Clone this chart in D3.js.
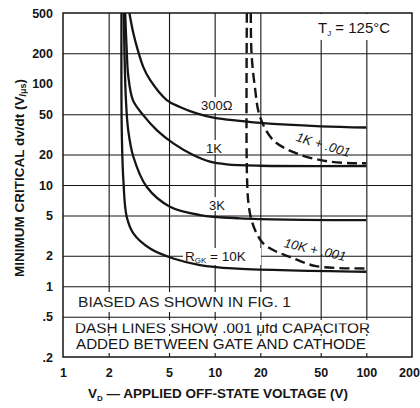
<!DOCTYPE html>
<html><head><meta charset="utf-8">
<script src="https://cdn.jsdelivr.net/npm/d3@7"></script>
<style>
html,body{margin:0;padding:0;background:#fff;}
svg{display:block;font-family:"Liberation Sans",Arial,Helvetica,sans-serif;}
</style></head>
<body><svg id="c" width="420" height="408"></svg>
<script>
// ---- data ----
const xTickValues = [1, 2, 5, 10, 20, 50, 100, 200];
const xTickLabels = ["1", "2", "5", "10", "20", "50", "100", "200"];
const yTickValues = [500, 200, 100, 50, 20, 10, 5, 2, 1, 0.5, 0.2];
const yTickLabels = ["500", "200", "100", "50", "20", "10", "5", "2", "1", ".5", ".2"];
const xGridValues = [2, 5, 10, 20, 50, 100];
const yGridValues = [200, 50, 20, 10, 5, 2, 1, 0.5];

// solid curves: R_GK = 300 ohm, 1K, 3K, 10K  (V, dv/dt)
const r300V   = [2.74, 2.91, 3.11, 3.38, 3.75, 4.83, 5.9, 7.6, 10, 14.7, 20, 50, 100];
const r300Val = [500, 315, 216, 147, 109, 69, 59, 51, 46, 43, 41, 38, 37];
const r1kV    = [2.57, 2.63, 2.69, 2.89, 3.38, 4.15, 5.34, 7.22, 9.31, 12, 20, 100];
const r1kVal  = [500, 216, 122, 69, 49, 34.9, 25.8, 19.8, 17, 16, 15.5, 15.4];
const r3kV    = [2.52, 2.54, 2.60, 2.69, 2.91, 3.56, 5.07, 8.0, 14.7, 100];
const r3kVal  = [500, 216, 69, 34.9, 19, 9.6, 6.1, 5.05, 4.69, 4.5];
const r10kV   = [2.43, 2.44, 2.50, 2.63, 2.91, 3.75, 5.34, 8.0, 13.2, 100];
const r10kVal = [500, 34.9, 11.2, 4.85, 3.33, 2.36, 1.88, 1.62, 1.5, 1.39];
// dashed curves: with .001 uF capacitor
const c1kV    = [17.3, 17.5, 18.4, 19.9, 24.3, 34.7, 57.5, 100];
const c1kVal  = [500, 200, 93.5, 47.2, 27.8, 20.5, 17, 16.4];
const c10kV   = [16.3, 16.3, 16.7, 17.5, 18.9, 20.9, 25.6, 31.4, 46.5, 100];
const c10kVal = [500, 14, 6.6, 4.5, 3.33, 2.65, 2.19, 1.95, 1.58, 1.5];

// ---- chart ----
const svg = d3.select("#c");
const ink = "#151515";
const L = 63, R = 412, T = 13, B = 357;
const x = d3.scaleLog().domain([1, 200]).range([L, R]);
const y = d3.scaleLog().domain([0.2, 500]).range([B, T]);

svg.append("rect").attr("width", 420).attr("height", 408).attr("fill", "#fff");

svg.append("clipPath").attr("id", "plot").append("rect")
  .attr("x", L).attr("y", T).attr("width", R - L).attr("height", B - T);

// grid via axes
const gx = svg.append("g").attr("transform", `translate(0,${B})`)
  .call(d3.axisBottom(x).tickValues(xGridValues).tickSize(-(B - T)).tickFormat(""));
const gy = svg.append("g").attr("transform", `translate(${L},0)`)
  .call(d3.axisLeft(y).tickValues(yGridValues).tickSize(-(R - L)).tickFormat(""));
[gx, gy].forEach(g => {
  g.select(".domain").remove();
  g.selectAll("line").attr("stroke", ink).attr("stroke-width", 1.1);
});

// white backgrounds behind in-plot labels (hide grid)
const bg = svg.append("g").attr("fill", "#fff");
function bgRect(x0, y0, w, h) { bg.append("rect").attr("x", x0).attr("y", y0).attr("width", w).attr("height", h); }
bgRect(314, 14, 84, 26);     // T_J
bgRect(199, 97, 37, 16);     // 300
bgRect(204, 140, 24, 14);    // 1K
bgRect(207, 197, 24, 14);    // 3K
bgRect(183, 248, 78, 17);    // R_GK
bgRect(70, 292, 228, 20);    // BIASED
bgRect(70, 320, 304, 14);    // DASH
bgRect(70, 336, 300, 17);    // ADDED

// frame
svg.append("rect").attr("x", L).attr("y", T).attr("width", R - L).attr("height", B - T)
  .attr("fill", "none").attr("stroke", ink).attr("stroke-width", 1.5);

// curves
const line = d3.line().x(d => x(d[0])).y(d => y(d[1])).curve(d3.curveCatmullRom.alpha(0.5));
const zip = (a, b) => a.map((v, i) => [v, b[i]]);
const curves = svg.append("g").attr("clip-path", "url(#plot)").attr("fill", "none").attr("stroke", ink);
[[r300V, r300Val], [r1kV, r1kVal], [r3kV, r3kVal], [r10kV, r10kVal]].forEach(([a, b]) => {
  curves.append("path").attr("d", line(zip(a, b))).attr("stroke-width", 2.3);
});
[[c1kV, c1kVal], [c10kV, c10kVal]].forEach(([a, b]) => {
  curves.append("path").attr("d", line(zip(a, b))).attr("stroke-width", 2.4)
    .attr("stroke-dasharray", "10,5");
});

// axis tick labels
const ax = svg.append("g").attr("transform", `translate(0,${B})`)
  .call(d3.axisBottom(x).tickValues(xTickValues).tickSize(0).tickPadding(11)
    .tickFormat((d, i) => xTickLabels[i]));
ax.select(".domain").remove();
ax.selectAll("text").attr("font-size", 12.5).attr("font-weight", "bold").attr("fill", ink)
  .attr("font-family", "Liberation Sans, Arial, sans-serif")
  .attr("dx", (d) => d === 200 ? -3 : 0);

const ay = svg.append("g").attr("transform", `translate(${L},0)`)
  .call(d3.axisLeft(y).tickValues(yTickValues).tickSize(0).tickPadding(10)
    .tickFormat((d, i) => yTickLabels[i]));
ay.select(".domain").remove();
ay.selectAll("text").attr("font-size", 12.5).attr("font-weight", "bold").attr("fill", ink)
  .attr("font-family", "Liberation Sans, Arial, sans-serif");

// axis titles
const xt = svg.append("text").attr("x", 88).attr("y", 398).attr("font-size", 13.5)
  .attr("font-weight", "bold").attr("fill", ink);
xt.append("tspan").text("V");
xt.append("tspan").attr("font-size", 8).attr("dy", 3).text("D");
xt.append("tspan").attr("dy", -3).text(" — APPLIED OFF-STATE VOLTAGE (V)");

const yt = svg.append("text").attr("transform", "translate(24,178) rotate(-90)")
  .attr("text-anchor", "middle").attr("font-size", 13.5).attr("font-weight", "bold").attr("fill", ink);
yt.append("tspan").text("MINIMUM CRITICAL dv/dt (V");
yt.append("tspan").attr("font-size", 9).attr("dy", 2).text("/μs");
yt.append("tspan").attr("dy", -2).text(")");

// in-plot labels
const tj = svg.append("text").attr("x", 318).attr("y", 33).attr("font-size", 15).attr("fill", ink);
tj.append("tspan").text("T");
tj.append("tspan").attr("font-size", 8).attr("dy", 3).text("J");
tj.append("tspan").attr("dy", -3).text(" = 125°C");

const lab = (t, x0, y0, fs) => svg.append("text").attr("x", x0).attr("y", y0)
  .attr("font-size", fs).attr("fill", ink).text(t);
lab("300Ω", 201, 110, 13);
lab("1K", 206, 153, 13);
lab("3K", 209, 210, 13);

const rg = svg.append("text").attr("x", 185).attr("y", 261).attr("font-size", 13.5).attr("fill", ink);
rg.append("tspan").text("R");
rg.append("tspan").attr("font-size", 8).attr("dy", 2).text("GK");
rg.append("tspan").attr("dy", -2).text(" = 10K");

svg.append("text").attr("transform", "translate(322,149) rotate(17)")
  .attr("text-anchor", "middle").attr("font-size", 13).attr("font-style", "italic")
  .attr("fill", ink).text("1K + .001");
svg.append("text").attr("transform", "translate(314,254) rotate(13)")
  .attr("text-anchor", "middle").attr("font-size", 13).attr("font-style", "italic")
  .attr("fill", ink).text("10K + .001");

// note box text
lab("BIASED AS SHOWN IN FIG. 1", 78, 307, 14).attr("textLength", 213).attr("lengthAdjust", "spacingAndGlyphs").attr("fill", "#222");
svg.append("clipPath").attr("id", "dashclip").append("rect")
  .attr("x", 60).attr("y", 323.5).attr("width", 340).attr("height", 12);
lab("DASH LINES SHOW .001 μfd CAPACITOR", 75, 333, 14).attr("textLength", 295)
  .attr("lengthAdjust", "spacingAndGlyphs").attr("clip-path", "url(#dashclip)");
lab("ADDED BETWEEN GATE AND CATHODE", 76, 349, 15).attr("textLength", 290)
  .attr("lengthAdjust", "spacingAndGlyphs");
</script></body></html>
